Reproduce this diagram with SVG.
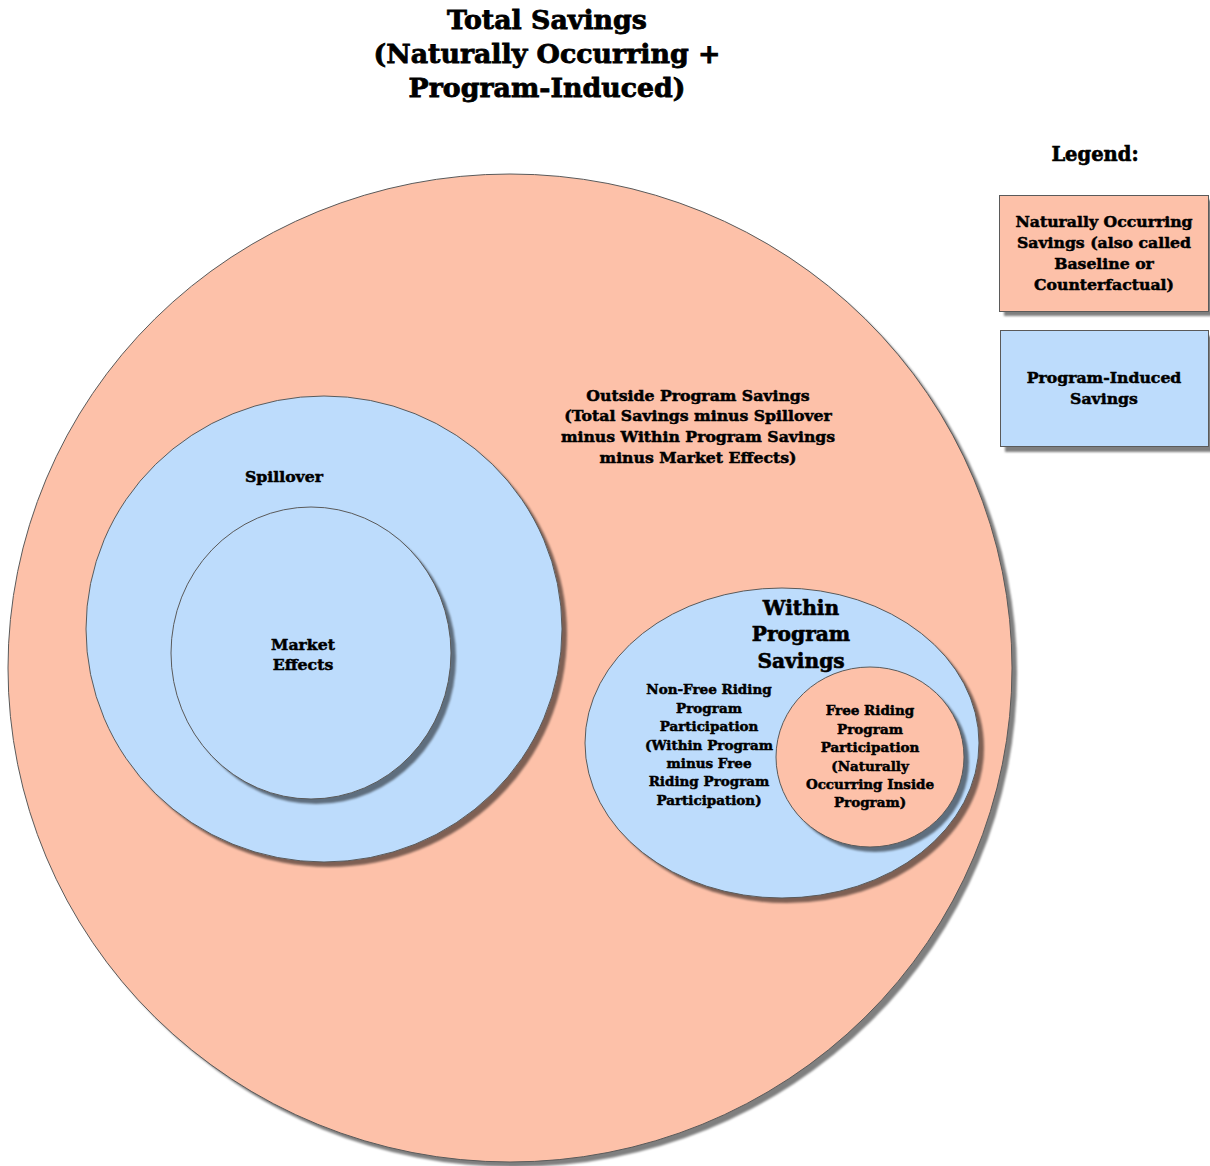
<svg xmlns="http://www.w3.org/2000/svg" width="1210" height="1166" viewBox="0 0 1210 1166">
<defs>
<filter id="blur" x="-5%" y="-5%" width="110%" height="110%"><feGaussianBlur stdDeviation="1"/></filter>
<style>
text{font-family:"DejaVu Serif","Liberation Serif",serif;font-weight:bold;fill:#000;stroke:#000;stroke-width:0.5;text-anchor:middle}
.peach{fill:#FDC1A9;stroke:#5a5a5a;stroke-width:1}
.blue{fill:#BDDCFC;stroke:#5a5a5a;stroke-width:1}
.shadow{fill:#000;fill-opacity:0.5;filter:url(#blur)}
.t13{font-size:13.5px}
.t15{font-size:15.7px}
</style>
</defs>
<rect width="1210" height="1166" fill="#fff"/>

<g id="title">
<text x="547" y="29" style="font-size:26.8px;stroke-width:0.8">Total Savings</text>
<text x="547" y="63" style="font-size:26.8px;stroke-width:0.8">(Naturally Occurring +</text>
<text x="547" y="97" style="font-size:26.8px;stroke-width:0.8">Program-Induced)</text>
</g>

<g id="total-savings">
<ellipse class="shadow" cx="515" cy="673" rx="502" ry="494"/>
<ellipse class="peach" cx="510" cy="668" rx="502" ry="494"/>
<text class="t15" x="698" y="401">Outside Program Savings</text>
<text class="t15" x="698" y="421">(Total Savings minus Spillover</text>
<text class="t15" x="698" y="442">minus Within Program Savings</text>
<text class="t15" x="698" y="463">minus Market Effects)</text>
</g>

<g id="spillover">
<ellipse class="shadow" cx="329" cy="634" rx="238" ry="233"/>
<ellipse class="blue" cx="324" cy="629" rx="238" ry="233"/>
<text class="t15" x="284" y="482">Spillover</text>
</g>

<g id="market-effects">
<ellipse class="shadow" cx="316" cy="658" rx="140" ry="146"/>
<ellipse class="blue" cx="311" cy="653" rx="140" ry="146"/>
<text class="t15" x="303" y="650">Market</text>
<text class="t15" x="303" y="670">Effects</text>
</g>

<g id="within-program">
<ellipse class="shadow" cx="787" cy="748" rx="197" ry="155"/>
<ellipse class="blue" cx="782" cy="743" rx="197" ry="155"/>
<text x="801" y="615" style="font-size:20.2px;stroke-width:0.6">Within</text>
<text x="801" y="641" style="font-size:20.2px;stroke-width:0.6">Program</text>
<text x="801" y="668" style="font-size:20.2px;stroke-width:0.6">Savings</text>
<text class="t13" x="709" y="694">Non-Free Riding</text>
<text class="t13" x="709" y="713">Program</text>
<text class="t13" x="709" y="731">Participation</text>
<text class="t13" x="709" y="750">(Within Program</text>
<text class="t13" x="709" y="768">minus Free</text>
<text class="t13" x="709" y="786">Riding Program</text>
<text class="t13" x="709" y="805">Participation)</text>
</g>

<g id="free-riding">
<ellipse class="shadow" cx="875" cy="762" rx="94" ry="90"/>
<ellipse class="peach" cx="870" cy="757" rx="94" ry="90"/>
<text class="t13" x="870" y="715">Free Riding</text>
<text class="t13" x="870" y="734">Program</text>
<text class="t13" x="870" y="752">Participation</text>
<text class="t13" x="870" y="771">(Naturally</text>
<text class="t13" x="870" y="789">Occurring Inside</text>
<text class="t13" x="870" y="807">Program)</text>
</g>

<g id="legend">
<text x="1095" y="161" style="font-size:19.5px;stroke-width:0.6">Legend:</text>
</g>

<g id="legend-naturally">
<rect class="shadow" x="1004" y="200" width="209" height="116"/>
<rect class="peach" x="999.5" y="195.5" width="209" height="116"/>
<text class="t15" x="1104" y="227">Naturally Occurring</text>
<text class="t15" x="1104" y="248">Savings (also called</text>
<text class="t15" x="1104" y="269">Baseline or</text>
<text class="t15" x="1104" y="290">Counterfactual)</text>
</g>

<g id="legend-program">
<rect class="shadow" x="1005" y="336" width="209" height="116"/>
<rect class="blue" x="1000.5" y="330.5" width="208" height="116"/>
<text class="t15" x="1104" y="383">Program-Induced</text>
<text class="t15" x="1104" y="404">Savings</text>
</g>

<g id="connectors"/>
</svg>
